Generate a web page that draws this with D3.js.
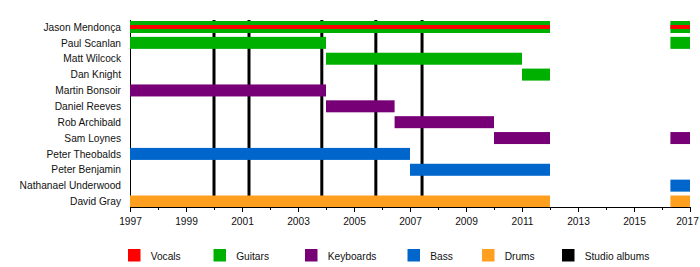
<!DOCTYPE html>
<html><head><meta charset="utf-8">
<script src="https://cdn.jsdelivr.net/npm/d3@7"></script>
<style>body{margin:0;background:#fff}svg{display:block;font-family:"Liberation Sans",Arial,sans-serif}</style>
</head><body><svg id="c" width="700" height="267"></svg>
<script>
const members = ["Jason Mendonça","Paul Scanlan","Matt Wilcock","Dan Knight","Martin Bonsoir","Daniel Reeves","Rob Archibald","Sam Loynes","Peter Theobalds","Peter Benjamin","Nathanael Underwood","David Gray"];
const roles = ["Vocals","Guitars","Keyboards","Bass","Drums","Studio albums"];
const roleColors = ["#ff0000","#00b000","#770077","#0066cc","#ff9f20","#000000"];
// [member, role, start, end]
const stints = [
  ["Jason Mendonça","Guitars",1997,2012],["Jason Mendonça","Guitars",2016.3,2017],
  ["Jason Mendonça","Vocals",1997,2012],["Jason Mendonça","Vocals",2016.3,2017],
  ["Paul Scanlan","Guitars",1997,2004],["Paul Scanlan","Guitars",2016.3,2017],
  ["Matt Wilcock","Guitars",2004,2011],
  ["Dan Knight","Guitars",2011,2012],
  ["Martin Bonsoir","Keyboards",1997,2004],
  ["Daniel Reeves","Keyboards",2004,2006.45],
  ["Rob Archibald","Keyboards",2006.45,2010],
  ["Sam Loynes","Keyboards",2010,2012],["Sam Loynes","Keyboards",2016.3,2017],
  ["Peter Theobalds","Bass",1997,2007],
  ["Peter Benjamin","Bass",2007,2012],
  ["Nathanael Underwood","Bass",2016.3,2017],
  ["David Gray","Drums",1997,2012],["David Gray","Drums",2016.3,2017]
];
const albums = [2000.0,2001.25,2003.85,2005.78,2007.43];
const majorTicks = [1997,1999,2001,2003,2005,2007,2009,2011,2013,2015,2017];
const minorTicks = [1998,2000,2002,2004,2006,2008,2010,2012,2014,2016];

const FS = 10.2;
const svg = d3.select("#c");
const x = d3.scaleLinear().domain([1997,2017]).range([130,690]);
const y = d3.scalePoint().domain(members).range([27,201.5]);
const color = d3.scaleOrdinal().domain(roles).range(roleColors);
const plotTop = 20, plotBottom = 207;

// album lines
svg.append("g").selectAll("line").data(albums).join("line")
  .attr("x1",d=>x(d)).attr("x2",d=>x(d)).attr("y1",plotTop).attr("y2",plotBottom)
  .attr("stroke","#000").attr("stroke-width",3);

// left axis line
svg.append("line").attr("x1",x(1997)+0.5).attr("x2",x(1997)+0.5).attr("y1",plotTop).attr("y2",plotBottom).attr("stroke","#000");

// bars
svg.append("g").selectAll("rect").data(stints).join("rect")
  .attr("x",d=>x(d[2])).attr("width",d=>x(d[3])-x(d[2]))
  .attr("y",d=>d[1]==="Vocals"? y(d[0])-2 : y(d[0])-6)
  .attr("height",d=>d[1]==="Vocals"? 4 : 12)
  .attr("fill",d=>color(d[1]));

// names
svg.append("g").selectAll("text").data(members).join("text")
  .attr("x",121).attr("y",d=>y(d)+3.7)
  .attr("text-anchor","end").attr("font-size",FS).attr("fill","#111").text(d=>d);

// x axis
const ax = svg.append("g").attr("transform",`translate(0,${plotBottom})`)
  .call(d3.axisBottom(x).tickValues(majorTicks).tickFormat(d3.format("d")).tickSize(5).tickSizeOuter(0).tickPadding(6));
ax.selectAll("text").attr("font-size",FS).attr("fill","#111").attr("font-family","Liberation Sans,Arial,sans-serif");
ax.selectAll(".tick text").filter(d=>d===2017).attr("dx",-3);
ax.select(".domain").attr("stroke","#000");
svg.append("g").attr("transform",`translate(0,${plotBottom})`)
  .call(d3.axisBottom(x).tickValues(minorTicks).tickFormat("").tickSize(3).tickSizeOuter(0))
  .select(".domain").remove();

// legend
const legendX = [128,213.5,305,407.5,482,562];
const lg = svg.append("g").selectAll("g").data(roles).join("g")
  .attr("transform",(d,i)=>`translate(${legendX[i]},249)`);
lg.append("rect").attr("width",12.5).attr("height",12.5).attr("fill",d=>color(d));
lg.append("text").attr("x",22.7).attr("y",11.2).attr("font-size",FS).attr("fill","#111").text(d=>d);
</script></body></html>
